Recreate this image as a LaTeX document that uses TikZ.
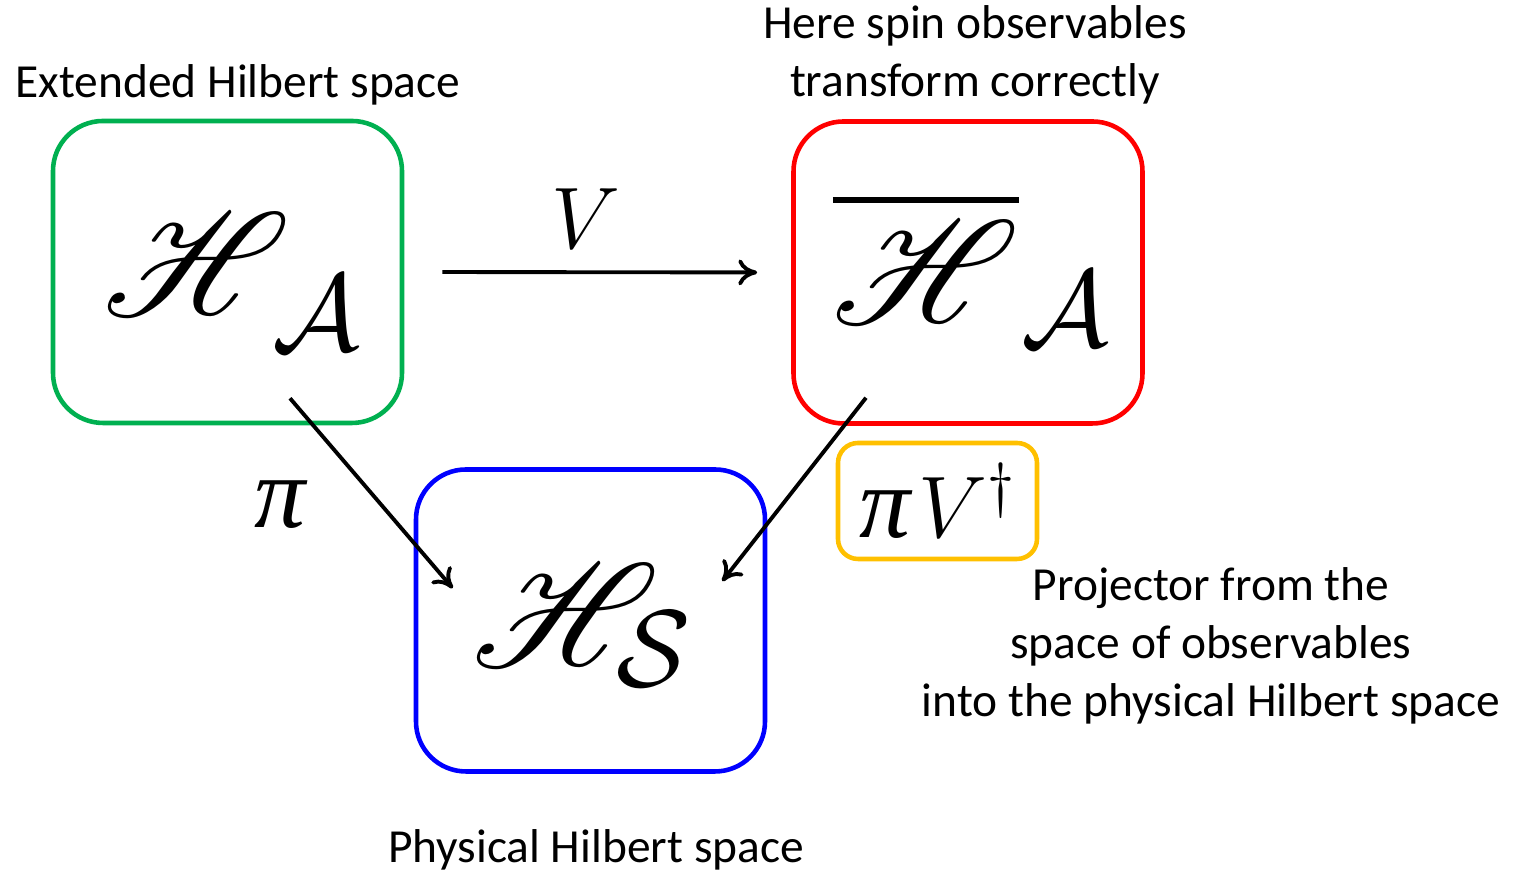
\documentclass[tikz,border=0pt]{standalone}
\usepackage{amsmath,amssymb}
\usepackage{mathrsfs}
\usepackage{fontspec}
\newfontfamily\calibrifont{Carlito}
\newfontfamily\timesfont{Liberation Serif}
\usetikzlibrary{arrows.meta,positioning,calc}

\definecolor{boxgreen}{RGB}{0,176,80}
\definecolor{boxred}{RGB}{255,0,0}
\definecolor{boxblue}{RGB}{0,0,255}
\definecolor{boxyellow}{RGB}{255,192,0}

% big script letter and its index
\newcommand{\bigH}{\scalebox{1.68}{\fontsize{24.88}{24.88}\selectfont$\mathscr{H}$}}
\newcommand{\bigHbar}{\scalebox{1.68}{\fontsize{24.88}{24.88}\selectfont$\overline{\mathscr{H}}$}}
\newcommand{\bigidx}[1]{\scalebox{1.25}{\fontsize{24.88}{24.88}\selectfont$\mathcal{#1}$}}
\newcommand{\pisym}{{\timesfont\itshape\fontsize{29}{29}\selectfont π}}

\begin{document}
\begin{tikzpicture}[
    font=\calibrifont\fontsize{13.5}{16.5}\selectfont,
    space/.style={draw, line width=1.3pt, rounded corners=0.5cm,
                  minimum width=3.49cm, minimum height=3.02cm},
    maplabel/.style={font=\fontsize{23}{26}\selectfont},
    arrow/.style={-{To[length=1.9mm,width=2.6mm]}, line width=1.1pt}
]
    \useasboundingbox (0, 0) rectangle (15.2, 8.73);

    % the three spaces
    \node[space, draw=boxgreen] (ext) at (2.275, 6.01) {};
    \node[space, draw=boxred] (bar) at (9.68, 6.005) {};
    \node[space, draw=boxblue] (phys) at (5.905, 2.525) {};

    \node (ha) at (2.32, 5.91) {\bigH\kern-0.17cm\raisebox{-0.35cm}{\bigidx{A}}};
    \node (hbar) at (9.71, 6.04) {\bigHbar\kern0.03cm\raisebox{-0.23cm}{\bigidx{A}}};
    \node (hs) at (5.82, 2.48) {\bigH\kern-0.42cm\raisebox{-0.2cm}{\bigidx{S}}};

    % maps
    \draw[arrow, shorten <=0.38cm, shorten >=0.34cm] (ext.east) -- (bar.west);
    \node[maplabel] (vlab) at (5.86, 6.54) {$V$};
    \draw[arrow] ($(ext.south)+(0.625,0.27)$) -- ($(phys.north west)+(0.39,-1.21)$);
    \draw[arrow] ($(bar.south)+(-1.02,0.28)$) -- ($(phys.north east)+(-0.45,-1.14)$);
    \node (pilab) at (2.80, 3.68) {\pisym};
    \node[draw=boxyellow, line width=1.3pt, rounded corners=0.2cm,
          minimum width=1.99cm, minimum height=1.16cm] (proj) at (9.375, 3.72)
        {\pisym\,{\fontsize{23}{26}\selectfont$V^{\dagger}$}};

    % notes
    \node (exttitle) at (2.38, 7.88) {Extended Hilbert space};
    \node[align=center] (bartitle) at (9.75, 8.18) {Here spin observables\\transform correctly};
    \node[align=center] (projnote) at (12.11, 2.27)
        {Projector from the\\space of observables\\into the physical Hilbert space};
    \node (phystitle) at (5.96, 0.23) {Physical Hilbert space};
\end{tikzpicture}
\end{document}
